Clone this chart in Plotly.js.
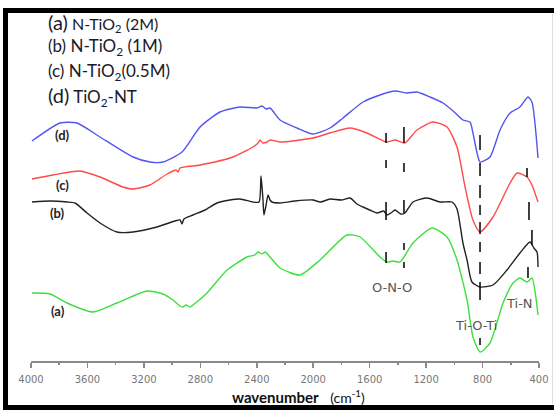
<!DOCTYPE html>
<html>
<head>
<meta charset="utf-8">
<script src="https://cdn.plot.ly/plotly-3.0.1.min.js"></script>
<style>
  html, body { margin: 0; padding: 0; background: #fff; }
  #chart { width: 554px; height: 410px; }
</style>
</head>
<body>
<div id="chart"></div>
<script>
// ---- Data (wavenumber in cm^-1, intensity in arbitrary offset units) ----
const wnD = [3993,3794,3674,3511,3277,3157,3065,2930,2802,2661,2519,2398,2363,2334,2306,2235,2115,2002,1881,1789,1647,1527,1420,1335,1265,1172,1080,1009,939,889,868,839,818,747,676,605,535,478,450,407];
const valD = [220,238,238,224,204,199,199,209,234,249,254,253,255,252,253,241,233,227,233,243,259,266,270,268,269,264,258,250,241,239,228,208,199,204,231,248,254,264,259,203];

const wnC = [3993,3844,3653,3511,3348,3277,3157,3036,2972,2958,2944,2802,2568,2427,2391,2377,2356,2327,2306,2235,2002,1881,1739,1619,1477,1420,1350,1265,1151,1052,981,924,868,818,726,605,556,485,450,407];
const valC = [182,186,190,184,174,172,176,187,191,189,193,196,204,214,218,221,218,219,221,219,223,228,233,228,219,221,218,231,239,234,214,174,141,129,144,178,188,184,176,159];

const wnB = [3993,3865,3745,3688,3603,3511,3391,3277,3107,2980,2944,2930,2916,2852,2767,2682,2590,2519,2427,2384,2370,2356,2349,2334,2320,2306,2292,2235,2129,2002,1950,1881,1800,1739,1690,1647,1600,1548,1500,1477,1440,1420,1380,1350,1293,1194,1101,1016,981,939,910,875,818,726,627,535,464,436,414,407];
const valB = [159,160,159,158,148,138,129,129,134,140,141,137,142,146,151,158,161,162,159,159,185,161,146,156,166,161,159,158,160,161,159,162,161,163,157,154,151,148,150,146,149,151,147,148,159,163,159,159,152,118,101,79,74,76,91,108,119,113,109,94];

const wnA = [3993,3865,3745,3561,3391,3178,3065,2994,2944,2923,2902,2873,2852,2753,2611,2469,2413,2391,2363,2341,2306,2235,2094,1952,1761,1668,1527,1477,1435,1385,1293,1158,1052,981,910,868,818,747,655,584,535,485,450,407];
const valA = [68,67,58,49,58,70,67,61,55,54,56,54,56,68,91,104,106,109,107,109,104,93,86,101,126,124,104,99,100,99,118,133,124,101,61,24,9,18,58,78,83,79,83,46];

const seriesNames = ['(a) N-TiO2 (2M)', '(b) N-TiO2 (1M)', '(c) N-TiO2(0.5M)', '(d) TiO2-NT'];
const curveLabels = ['(a)', '(b)', '(c)', '(d)'];
const curveLabelWn = [3809, 3809, 3780, 3780];
const curveLabelVal = [50, 148, 176, 226];

// band markers: wavenumber and [low, high] intensity of each short segment
const markerWn = [1484,1484,1484,1484, 1357,1357,1357,1357,1357, 818,818,818,818,818,818,818,818,818, 485,471,450,478];
const markerLo = [218,193,141,98, 218,189,148,111,93, 211,185,163,146,127,109,87,61,16, 184,141,116,83];
const markerHi = [228,201,159,109, 234,198,161,118,99, 226,198,176,156,139,119,99,79,23, 193,159,131,94];

const bandLabels = ['O-N-O', 'Ti-O-Ti', 'Ti-N'];
const bandLabelWn = [1442, 846, 535];
const bandLabelVal = [74, 36, 58];

const xTickStep = 400;

// ---- Traces ----
const colors = ['#3ddf3d', '#222222', '#ff4a4a', '#5454f2'];
const xs = [wnA, wnB, wnC, wnD];
const ys = [valA, valB, valC, valD];
const traces = xs.map((x, i) => ({
  type: 'scatter', mode: 'lines', x: x, y: ys[i], name: seriesNames[i],
  line: { color: colors[i], width: 1.4, shape: 'spline', smoothing: 0.6 },
  hoverinfo: 'skip'
}));

// ---- Shapes ----
const shapes = markerWn.map((w, i) => ({
  type: 'line', xref: 'x', yref: 'y', x0: w, x1: w, y0: markerLo[i], y1: markerHi[i],
  line: { color: '#111', width: 1.6 }
}));
// picture frame (left, top, bottom black bars; light right edge)
const L = 31, W = 508, B = 361, H = 349;
const px = v => (v - L) / W, py = v => (B - v) / H;
shapes.push({ type: 'line', xref: 'paper', yref: 'paper', x0: px(5.5), x1: px(5.5), y0: py(8), y1: py(410), line: { color: '#000', width: 5 } });
shapes.push({ type: 'line', xref: 'paper', yref: 'paper', x0: px(3), x1: px(560), y0: py(10.5), y1: py(10.5), line: { color: '#000', width: 5 } });
shapes.push({ type: 'line', xref: 'paper', yref: 'paper', x0: px(3), x1: px(560), y0: py(407.5), y1: py(407.5), line: { color: '#000', width: 5 } });
shapes.push({ type: 'line', xref: 'paper', yref: 'paper', x0: px(552.5), x1: px(552.5), y0: py(13), y1: py(405), line: { color: '#dddddd', width: 1 } });

// ---- Annotations ----
const annotations = [];
curveLabels.forEach((t, i) => annotations.push({
  xref: 'x', yref: 'y', x: curveLabelWn[i], y: curveLabelVal[i], text: '<b>' + t + '</b>',
  showarrow: false, xanchor: 'center', yanchor: 'middle',
  font: { family: 'Lato, sans-serif', size: 13, color: '#222' }
}));
bandLabels.forEach((t, i) => annotations.push({
  xref: 'x', yref: 'y', x: bandLabelWn[i], y: bandLabelVal[i], text: t,
  showarrow: false, xanchor: 'center', yanchor: 'middle',
  font: { family: 'DejaVu Sans, sans-serif', size: 13, color: '#555' }
}));
const legendTexts = [
  '<span style="font-size:20px">(a)</span> N-TiO<sub>2</sub> (2M)',
  '(b) N-TiO<sub>2</sub> (1M)',
  '(c) N-TiO<sub>2</sub>(0.5M)',
  '<span style="font-size:20px">(d)</span> TiO<sub>2</sub>-NT'
];
const legendPy = [22, 47, 72, 97];
const legendSize = [16, 17, 17, 17];
legendTexts.forEach((t, i) => annotations.push({
  xref: 'paper', yref: 'paper', x: px(46), y: py(legendPy[i]), text: t,
  showarrow: false, xanchor: 'left', yanchor: 'middle',
  font: { family: 'Lato, sans-serif', size: legendSize[i], color: '#1a1a2a' }
}));
annotations.push({
  xref: 'paper', yref: 'paper', x: px(298), y: py(396),
  text: '<b>wavenumber</b>   <span style="font-size:14px">(cm<sup>-1</sup>)</span>',
  showarrow: false, xanchor: 'center', yanchor: 'middle',
  font: { family: 'Lato, sans-serif', size: 15, color: '#111' }
});

const layout = {
  width: 554, height: 410,
  margin: { l: L, r: 554 - L - W, t: B - H, b: 410 - B, pad: 0 },
  paper_bgcolor: '#fff', plot_bgcolor: '#fff',
  showlegend: false,
  xaxis: {
    range: [4000, 400], tick0: 400, dtick: xTickStep,
    showgrid: false, zeroline: false,
    showline: true, linecolor: '#8a8a8a', linewidth: 1.5,
    ticks: 'outside', ticklen: 5, tickwidth: 1.5, tickcolor: '#8a8a8a',
    minor: { dtick: xTickStep / 2, ticks: 'outside', ticklen: 2, tickwidth: 1.5, tickcolor: '#8a8a8a', showgrid: false },
    tickfont: { family: 'DejaVu Sans, sans-serif', size: 10, color: '#777' },
    ticklabelstandoff: 3
  },
  yaxis: { range: [0, H], visible: false, fixedrange: true },
  shapes: shapes,
  annotations: annotations
};

Plotly.newPlot('chart', traces, layout, { displayModeBar: false, staticPlot: true });
</script>
</body>
</html>
